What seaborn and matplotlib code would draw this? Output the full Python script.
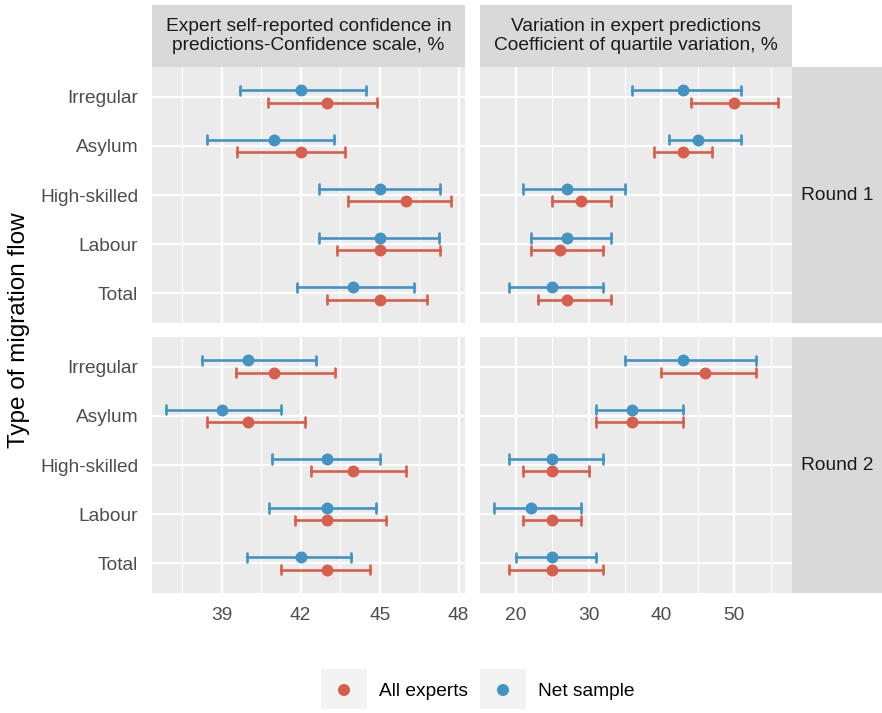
import numpy as np
import pandas as pd
import matplotlib
matplotlib.use("Agg")
import matplotlib.pyplot as plt
import seaborn as sns
from matplotlib.patches import Rectangle
from matplotlib.ticker import FixedLocator

# ---- data -------------------------------------------------------------
flows = ["Irregular", "Asylum", "High-skilled", "Labour", "Total"]
samples = ["All experts", "Net sample"]
rounds = ["Round 1", "Round 2"]
x_ticks_conf = [39, 42, 45, 48]
x_ticks_cqv = [20, 30, 40, 50]

# Self-reported confidence (%), round 1
conf_r1_all = [43, 42, 46, 45, 45]
conf_r1_all_lo = [40.75, 39.6, 43.8, 43.4, 43.0]
conf_r1_all_hi = [44.9, 43.7, 47.7, 47.3, 46.8]
conf_r1_net = [42, 41, 45, 45, 44]
conf_r1_net_lo = [39.7, 38.45, 42.7, 42.7, 41.85]
conf_r1_net_hi = [44.5, 43.25, 47.3, 47.25, 46.3]
# Self-reported confidence (%), round 2
conf_r2_all = [41, 40, 44, 43, 43]
conf_r2_all_lo = [39.55, 38.45, 42.4, 41.8, 41.25]
conf_r2_all_hi = [43.3, 42.15, 46.0, 45.25, 44.65]
conf_r2_net = [40, 39, 43, 43, 42]
conf_r2_net_lo = [38.25, 36.9, 40.9, 40.8, 39.95]
conf_r2_net_hi = [42.6, 41.25, 45.0, 44.85, 43.9]

# Coefficient of quartile variation (%), round 1
cqv_r1_all = [50, 43, 29, 26, 27]
cqv_r1_all_lo = [44, 39, 25, 22, 23]
cqv_r1_all_hi = [56, 47, 33, 32, 33]
cqv_r1_net = [43, 45, 27, 27, 25]
cqv_r1_net_lo = [36, 41, 21, 22, 19]
cqv_r1_net_hi = [51, 51, 35, 33, 32]
# Coefficient of quartile variation (%), round 2
cqv_r2_all = [46, 36, 25, 25, 25]
cqv_r2_all_lo = [40, 31, 21, 21, 19]
cqv_r2_all_hi = [53, 43, 30, 29, 32]
cqv_r2_net = [43, 36, 25, 22, 25]
cqv_r2_net_lo = [35, 31, 19, 17, 20]
cqv_r2_net_hi = [53, 43, 32, 29, 31]

measures = [
    "Expert self-reported confidence in\npredictions-Confidence scale, %",
    "Variation in expert predictions\nCoefficient of quartile variation, %",
]

series = {
    (0, "Round 1", "All experts"): (conf_r1_all_lo, conf_r1_all, conf_r1_all_hi),
    (0, "Round 1", "Net sample"): (conf_r1_net_lo, conf_r1_net, conf_r1_net_hi),
    (0, "Round 2", "All experts"): (conf_r2_all_lo, conf_r2_all, conf_r2_all_hi),
    (0, "Round 2", "Net sample"): (conf_r2_net_lo, conf_r2_net, conf_r2_net_hi),
    (1, "Round 1", "All experts"): (cqv_r1_all_lo, cqv_r1_all, cqv_r1_all_hi),
    (1, "Round 1", "Net sample"): (cqv_r1_net_lo, cqv_r1_net, cqv_r1_net_hi),
    (1, "Round 2", "All experts"): (cqv_r2_all_lo, cqv_r2_all, cqv_r2_all_hi),
    (1, "Round 2", "Net sample"): (cqv_r2_net_lo, cqv_r2_net, cqv_r2_net_hi),
}

# long form: three rows (low, estimate, high) per flow so that the median
# gives the estimate and the full-range interval gives the error bar
rows = []
for (m, rnd, smp), (lo, mid, hi) in series.items():
    for i, f in enumerate(flows):
        for v in (lo[i], mid[i], hi[i]):
            rows.append({"measure": m, "round": rnd, "sample": smp, "flow": f, "value": v})
df = pd.DataFrame(rows)

palette = {"All experts": "#D6604D", "Net sample": "#4393C3"}

# ---- styling ----------------------------------------------------------
sns.set_theme(style="white")
plt.rcParams["font.family"] = ["Liberation Sans", "DejaVu Sans"]

W, H = 882, 713
fig = plt.figure(figsize=(W / 100, H / 100), dpi=100)


def px_axes(l, t, r, b, **kw):
    return fig.add_axes([l / W, 1 - b / H, (r - l) / W, (b - t) / H], **kw)


col_x = [(152, 465), (480, 792)]
row_y = [(67, 323), (337, 593)]
strip_top = (5, 67)
strip_right = (792, 882)

TXT = 13.8
panel_bg = "#EBEBEB"
strip_bg = "#D9D9D9"

# x limits with 5% expansion of each measure's range
xlims = []
for m in range(2):
    sub = df[df["measure"] == m]["value"]
    lo, hi = sub.min(), sub.max()
    pad = 0.05 * (hi - lo)
    xlims.append((lo - pad, hi + pad))

majors = [x_ticks_conf, x_ticks_cqv]

for ri, rnd in enumerate(rounds):
    for ci in range(2):
        l, r = col_x[ci]
        t, b = row_y[ri]
        ax = px_axes(l, t, r, b)
        ax.set_facecolor(panel_bg)
        sub = df[(df["measure"] == ci) & (df["round"] == rnd)]
        sns.pointplot(
            data=sub, x="value", y="flow", hue="sample",
            order=flows, hue_order=["Net sample", "All experts"],
            palette=palette, estimator="median", errorbar=("pi", 100),
            dodge=0.25, linestyle="none", markers="o",
            markersize=8.6, markeredgewidth=0, capsize=0.19,
            err_kws={"linewidth": 1.9}, legend=False, orient="h", ax=ax,
        )
        ax.set_xlim(*xlims[ci])
        ax.set_ylim(len(flows) - 0.4, -0.6)
        mj = majors[ci]
        step = mj[1] - mj[0]
        minors = [v + step / 2 for v in [mj[0] - step] + mj]
        ax.xaxis.set_major_locator(FixedLocator(mj))
        ax.xaxis.set_minor_locator(FixedLocator(minors))
        ax.grid(True, which="major", axis="both", color="white", linewidth=1.6)
        ax.grid(True, which="minor", axis="x", color="white", linewidth=0.8)
        ax.set_axisbelow(True)
        for s in ax.spines.values():
            s.set_visible(False)
        ax.set_xlabel("")
        ax.set_ylabel("")
        ax.tick_params(axis="both", which="major", length=5, width=1.4,
                       color="#333333", labelcolor="#4D4D4D",
                       labelsize=TXT, pad=5)
        ax.tick_params(axis="x", which="minor", length=0)
        if ci == 1:
            ax.tick_params(axis="y", left=False, labelleft=False)
        if ri == 0:
            ax.tick_params(axis="x", bottom=False, labelbottom=False)
        else:
            ax.set_xticklabels([str(v) for v in mj])

# column strips
for ci in range(2):
    l, r = col_x[ci]
    sa = px_axes(l, strip_top[0], r, strip_top[1])
    sa.set_facecolor(strip_bg)
    sa.set_xticks([]); sa.set_yticks([])
    for s in sa.spines.values():
        s.set_visible(False)
    sa.text(0.5, 0.5, measures[ci], ha="center", va="center",
            fontsize=TXT, color="#1A1A1A", linespacing=1.12,
            transform=sa.transAxes)

# row strips
for ri, rnd in enumerate(rounds):
    t, b = row_y[ri]
    sa = px_axes(strip_right[0], t, strip_right[1], b)
    sa.set_facecolor(strip_bg)
    sa.set_xticks([]); sa.set_yticks([])
    for s in sa.spines.values():
        s.set_visible(False)
    sa.text(0.5, 0.5, rnd, ha="center", va="center", fontsize=TXT,
            color="#1A1A1A", transform=sa.transAxes)

# axis title and legend on an overlay in pixel units
ov = px_axes(0, 0, W, H, zorder=-1)
ov.set_xlim(0, W)
ov.set_ylim(H, 0)
ov.axis("off")
ov.text(19, (row_y[0][0] + row_y[1][1]) / 2, "Type of migration flow",
        rotation=90, ha="center", va="center", fontsize=17.5, color="black")

legend_keys = [(321, 379), (480, 538)]
for (kx, tx), smp in zip(legend_keys, samples):
    ov.add_patch(Rectangle((kx, 669), 46, 40, facecolor="#F2F2F2", edgecolor="none"))
    ov.scatter([kx + 23], [690], s=75, color=palette[smp], edgecolor="none")
    ov.text(tx, 691, smp, ha="left", va="center", fontsize=TXT, color="black")

fig.savefig("out.png", dpi=100)
